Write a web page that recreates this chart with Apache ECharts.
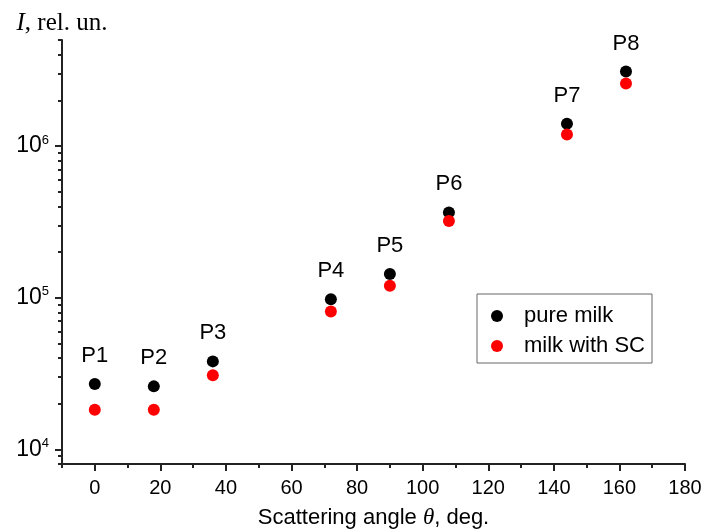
<!DOCTYPE html>
<html><head><meta charset="utf-8">
<script src="https://cdn.jsdelivr.net/npm/echarts@6/dist/echarts.min.js"></script>
<style>html,body{margin:0;padding:0;background:#fff}#c{width:705px;height:530px}</style>
</head><body><div id="c"></div>
<script>
var angles = [0, 18, 36, 72, 90, 108, 144, 162];
var pointNames = ['P1','P2','P3','P4','P5','P6','P7','P8'];
var pureMilk = [27000, 26000, 38000, 97500, 143000, 365000, 1400000, 3100000];
var milkSC = [18200, 18200, 30800, 81000, 120000, 320000, 1190000, 2580000];
var xMajor = [0, 20, 40, 60, 80, 100, 120, 140, 160, 180];
var xMinor = [-10, 10, 30, 50, 70, 90, 110, 130, 150, 170];
var yMajor = [1e4, 1e5, 1e6];
var yMinor = [8e3, 9e3, 2e4, 3e4, 4e4, 5e4, 6e4, 7e4, 8e4, 9e4, 2e5, 3e5, 4e5, 5e5, 6e5, 7e5, 8e5, 9e5, 2e6, 3e6, 4e6, 5e6];

var SANS = '"Liberation Sans", Arial, sans-serif';
var SERIF = '"Liberation Serif", "Times New Roman", serif';
var chart = echarts.init(document.getElementById('c'), null, {renderer: 'canvas'});
var axisLine = {show: true, onZero: false, lineStyle: {color: '#222', width: 2}};
chart.setOption({
  animation: false,
  grid: {left: 62, right: 20, top: 40, bottom: 66, containLabel: false, outerBoundsMode: 'none'},
  legend: {
    orient: 'vertical', left: 477, top: 294,
    backgroundColor: '#fff', borderColor: '#666', borderWidth: 1, borderRadius: 0,
    padding: [11, 7, 6, 14], itemGap: 8, itemWidth: 44, itemHeight: 12,
    icon: 'circle',
    textStyle: {fontFamily: SANS, fontSize: 22, color: '#000', lineHeight: 20, padding: [0,0,0,0]},
    data: ['pure milk', 'milk with SC']
  },
  xAxis: [{
    type: 'value', min: -10, max: 180, gridIndex: 0, position: 'bottom',
    axisLine: axisLine, splitLine: {show: false},
    axisTick: {show: true, customValues: xMajor, length: 7, inside: false, lineStyle: {color: '#222', width: 2}},
    axisLabel: {customValues: xMajor, margin: 14, fontFamily: SANS, fontSize: 20, color: '#000'},
    name: '{a|Scattering angle }{t|θ}{a|, deg.}', nameLocation: 'middle', nameGap: 42,
    nameTextStyle: {fontSize: 22, rich: {a: {fontFamily: SANS, fontSize: 22, color: '#000'}, t: {fontFamily: SERIF, fontStyle: 'italic', fontSize: 23, color: '#000'}}}
  }, {
    type: 'value', min: -10, max: 180, gridIndex: 0, position: 'bottom',
    axisLine: {show: false, onZero: false}, splitLine: {show: false}, axisLabel: {show: false},
    axisTick: {show: true, customValues: xMinor, length: 4, inside: false, lineStyle: {color: '#222', width: 2}}
  }],
  yAxis: [{
    type: 'log', logBase: 10, min: 8000, max: 5e6, gridIndex: 0, position: 'left',
    axisLine: axisLine, splitLine: {show: false},
    axisTick: {show: true, customValues: yMajor, length: 7, lineStyle: {color: '#222', width: 2}},
    axisLabel: {customValues: yMajor, margin: 13, color: '#000', fontFamily: SANS, fontSize: 23,
      formatter: function (v) { return '{b|10}{s|' + Math.round(Math.log10(v)) + '}'; },
      rich: {b: {fontFamily: SANS, fontSize: 23, color: '#000'}, s: {fontFamily: SANS, fontSize: 13, color: '#000', verticalAlign: 'top', padding: [0,0,12,0]}}},
    name: '{i|I}{r|, rel. un.}', nameLocation: 'end', nameGap: 4,
    nameTextStyle: {align: 'center', fontSize: 25, rich: {i: {fontFamily: SERIF, fontStyle: 'italic', fontSize: 25, color: '#000'}, r: {fontFamily: SERIF, fontSize: 25, color: '#000'}}}
  }, {
    type: 'log', logBase: 10, min: 8000, max: 5e6, gridIndex: 0, position: 'left',
    axisLine: {show: false, onZero: false}, splitLine: {show: false}, axisLabel: {show: false},
    axisTick: {show: true, customValues: yMinor, length: 4, lineStyle: {color: '#222', width: 2}}
  }],
  series: [{
    name: 'pure milk', type: 'scatter', xAxisIndex: 0, yAxisIndex: 0,
    symbol: 'circle', symbolSize: 12, itemStyle: {color: '#000', opacity: 1},
    data: angles.map(function (a, i) { return [a, pureMilk[i]]; }),
    label: {show: true, position: 'top', distance: 11, fontFamily: SANS, fontSize: 22, color: '#000',
      formatter: function (p) { return pointNames[p.dataIndex]; }}
  }, {
    name: 'milk with SC', type: 'scatter', xAxisIndex: 0, yAxisIndex: 0,
    symbol: 'circle', symbolSize: 12, itemStyle: {color: '#ff0000', opacity: 1},
    data: angles.map(function (a, i) { return [a, milkSC[i]]; })
  }]
});
</script></body></html>
